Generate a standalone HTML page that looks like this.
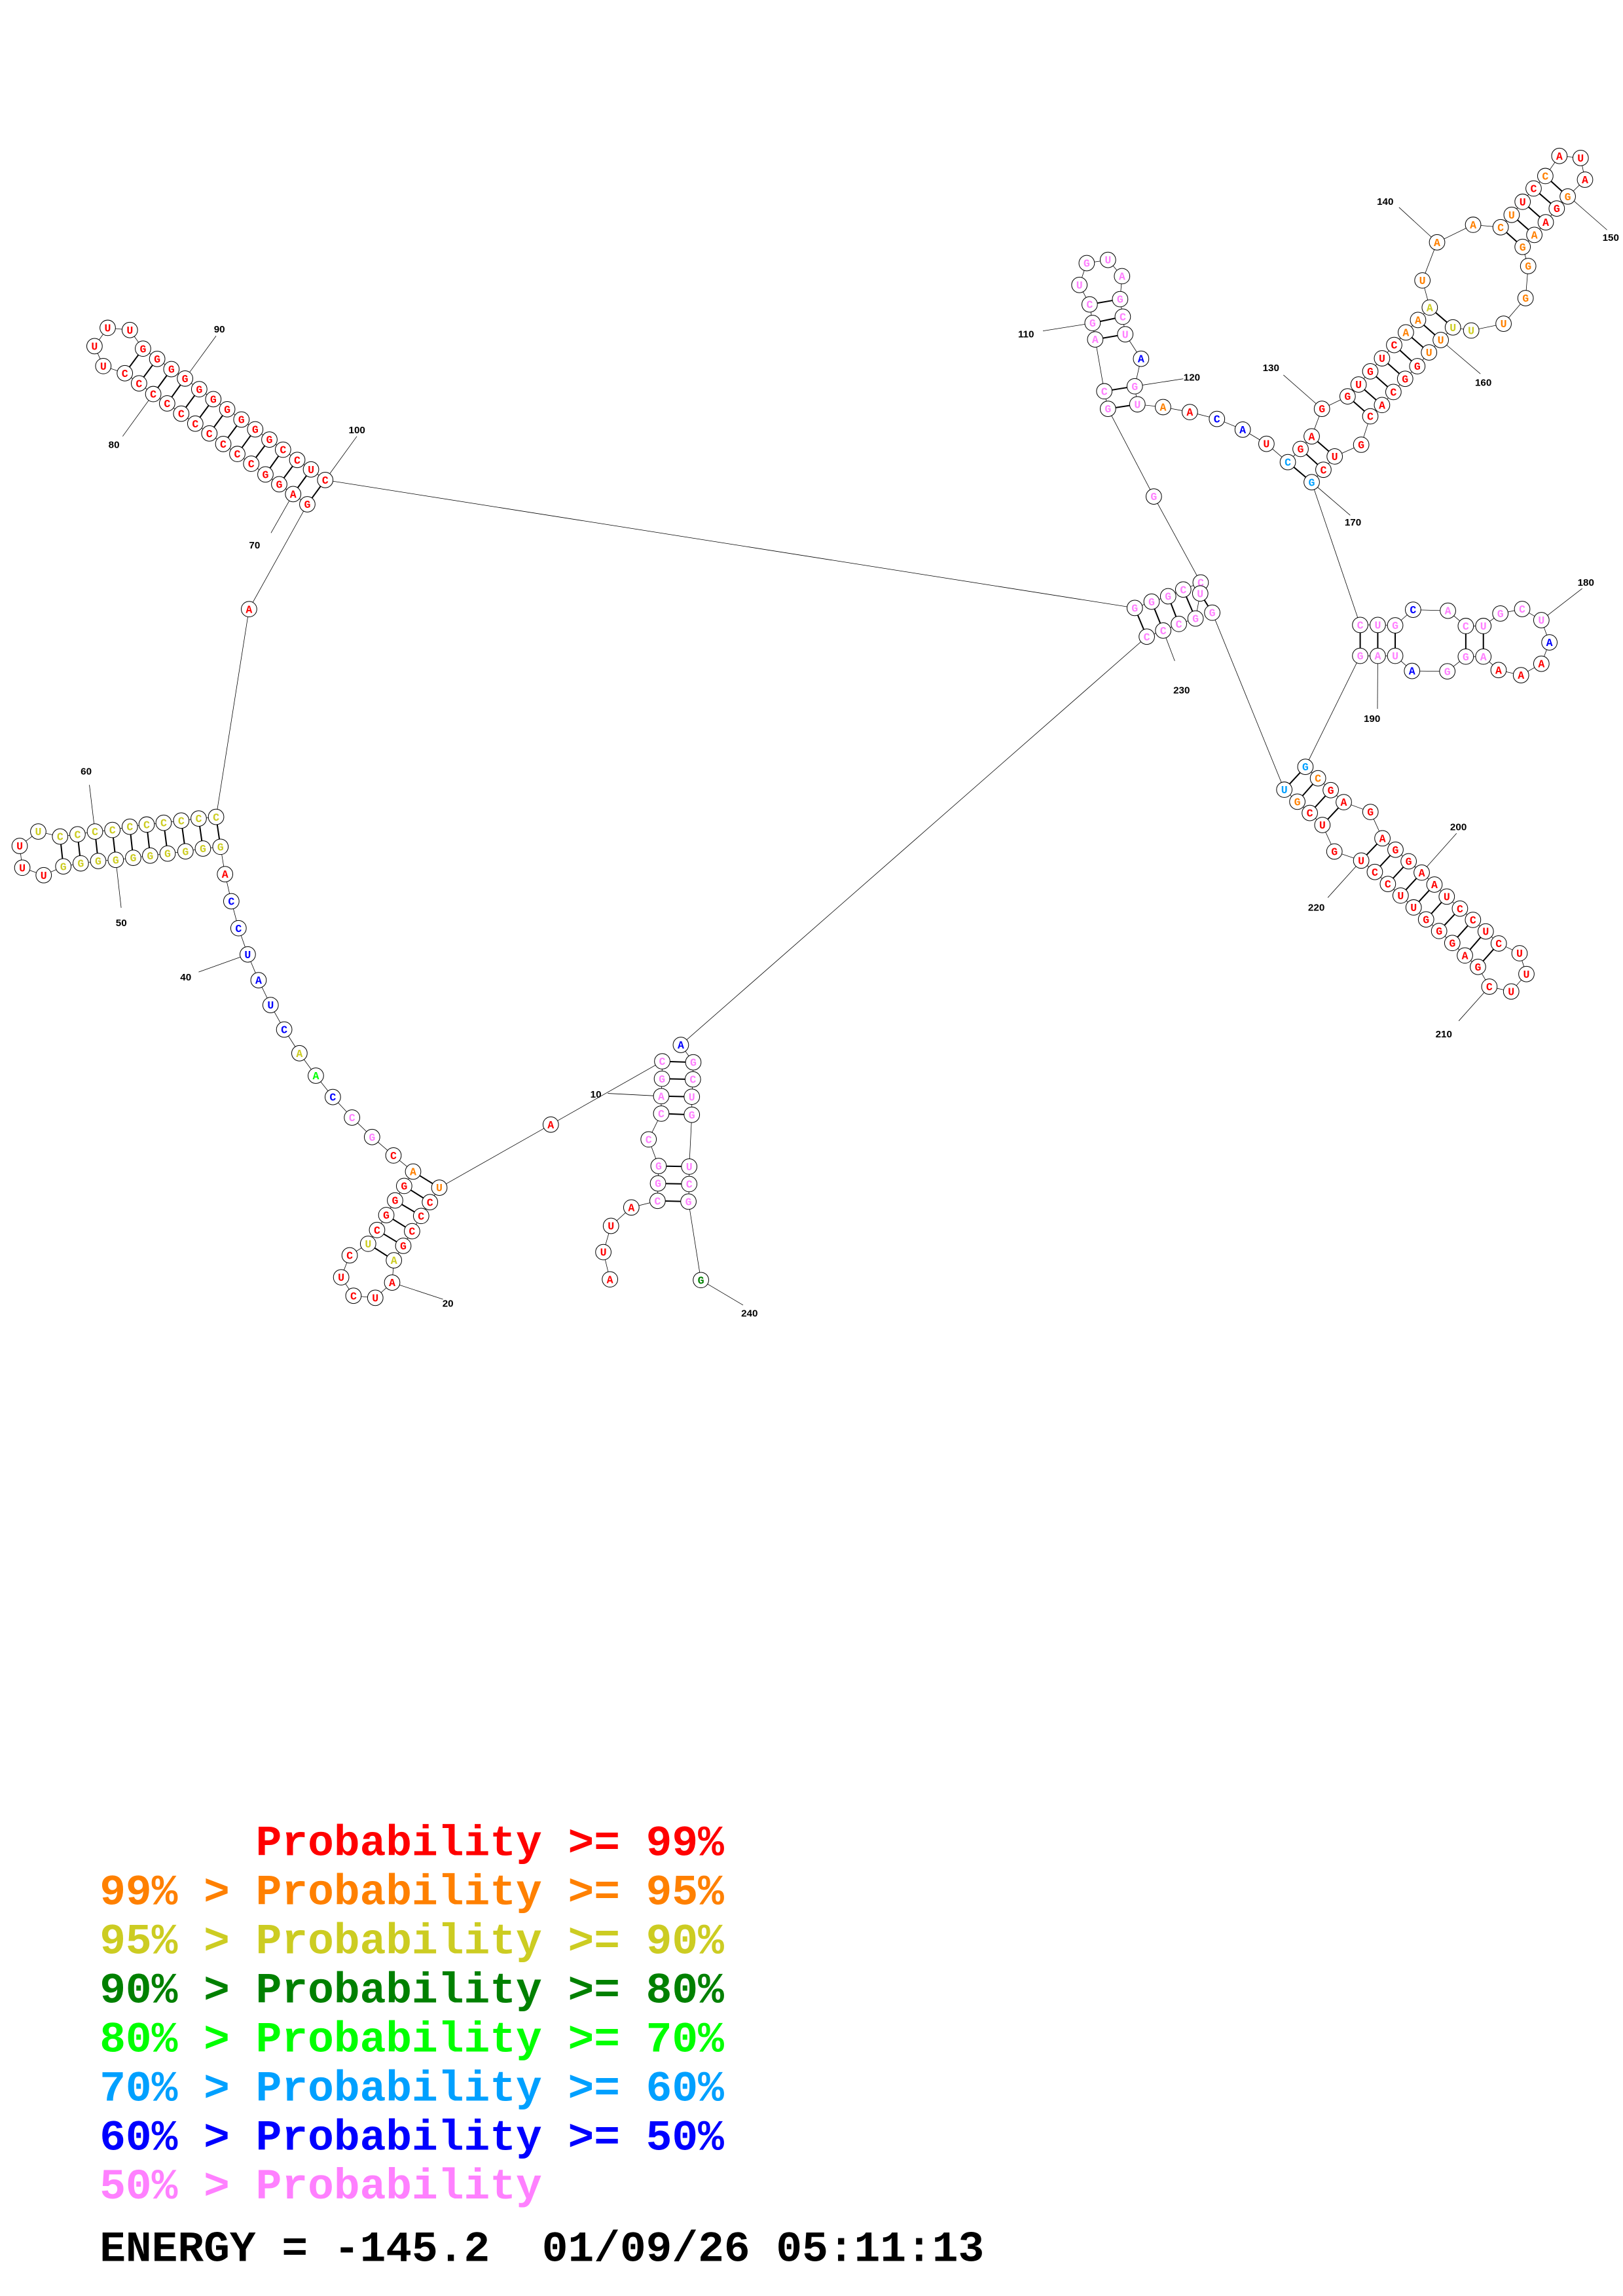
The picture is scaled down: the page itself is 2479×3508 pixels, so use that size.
<!DOCTYPE html>
<html><head><meta charset="utf-8"><style>
html,body{margin:0;padding:0;background:#fff}
svg{display:block}
.n circle{fill:#fff;stroke:#000;stroke-width:.45}
.n text{font:bold 7.4px "Liberation Mono",monospace;text-anchor:middle}
.r text{fill:#ff0000}.o text{fill:#ff8000}.y text{fill:#cccc22}.dg text{fill:#008000}
.g text{fill:#00ff00}.lb text{fill:#00a0ff}.b text{fill:#0000ff}.p text{fill:#ff80ff}
.lab{font:bold 6.8px "Liberation Sans",sans-serif;fill:#000}
.leg{font:bold 29.6px "Liberation Mono",monospace;white-space:pre}
</style></head><body>
<svg width="2479" height="3508" viewBox="0 0 1108 1568" xmlns="http://www.w3.org/2000/svg">
<rect width="1108" height="1568" fill="#fff"/>
<polyline fill="none" stroke="#000" stroke-width="0.35" points="
416.4,873.7 411.9,855.1 417.1,837.2 431.0,824.6 448.9,820.1 449.2,808.2 449.6,796.3 442.8,778.1 451.4,760.5 451.4,748.6 451.9,736.7 452.1,724.8
376,768 299.9,811.1 293.5,821.0 287.5,830.4 281.3,840.8 275.3,850.8 268.9,860.7 267.7,875.9 256.2,886.3 241.3,884.9 232.9,872.3 238.7,857.3 251.3,849.4 257.4,840.0 263.7,829.8 269.7,819.8 275.9,809.9 282.0,800.1
268.6,789.1 254.0,776.5 240.3,763.2 227.2,749.2 215.6,734.6 204.4,719.3 194.0,703.1 184.7,686.4 176.5,669.4 169.1,651.8 162.8,633.9 157.9,615.5 153.6,597.0
150.5,578.3 138.5,579.5 126.6,581.4 114.4,582.9 102.5,584.3 90.9,585.8 79.0,587.2 67.0,588.0 55.1,589.6 43.2,591.7 29.8,597.7 15.2,592.6 13.4,577.7 26.1,567.9
41.0,571.3 52.9,569.8 64.8,567.9 76.7,566.8 88.6,564.6 100.1,563.1 111.7,561.9 123.7,560.4 135.6,559.0 147.5,557.9 170,416
209.8,344.4 200.1,337.4 190.6,330.7 181.2,324.0 171.5,316.7 162.0,310.0 152.4,303.2 142.9,296.0 133.3,289.3 123.7,282.5 114.1,275.5 104.6,269.1 94.9,261.8 85.2,254.9 70.5,250.0 64.5,236.4 73.5,223.9 88.6,225.4 97.6,238.1 107.3,245.1 117.0,252.1 126.3,258.5 136.0,265.8 145.6,272.6 155.1,279.5 164.8,286.5 174.2,293.2 183.9,300.2 193.2,307.1 202.9,314.1 212.3,320.6 222.0,327.8
774.7,415.2 786.2,410.9 797.5,407.2 807.8,402.6 819.7,397.8 787.7,339.1
756.4,279.2 753.9,267.2 747.7,231.8 745.9,220.6 743.9,207.9 736.9,194.6 741.9,179.7 756.4,177.5 766.0,188.6 764.7,204.3 766.5,216.3 768.2,228.3 779.0,245.0 774.7,263.8 776.5,276.1
794.0,278.0 812.3,281.4 830.8,286.1 848.4,293.4 864.6,303.1 879.2,315.6 887.9,306.6 895.5,298.0 902.5,279.2 920.0,270.7 927.5,262.6 935.5,253.6 943.5,244.7 951.8,235.6 959.8,227.0 968.1,218.5 976.1,210.0 971.1,191.5 981.1,165.5 1005.7,153.5 1024.5,155.2 1032.0,146.7 1039.5,137.8 1047.0,128.7 1055.0,120.2 1064.6,106.5 1079.1,107.9 1082.1,122.7 1070.3,134.2 1062.8,142.4 1055.3,151.8 1047.5,160.4 1039.5,168.6 1043.3,181.7 1041.5,203.6 1026.5,221.1 1004.4,225.7 991.9,223.6 983.6,232.2 975.6,240.7 967.6,250.1 959.3,258.7 951.3,267.7 943.5,276.6 935.5,284.3 929.3,303.7 911.2,311.7 903.5,320.8 895.5,329.3
928.6,426.8 940.6,426.8 952.5,427.1 964.7,416.4 988.5,417.1 1000.7,427.5 1012.7,427.5 1024.3,419.0 1039.2,415.9 1052.3,423.5 1057.8,438.7 1052.3,453.3 1038.4,461.1 1023.1,457.6 1012.7,448.4 1000.7,448.4 988.1,458.5 964.0,458.2 952.5,447.9 940.6,447.9 928.6,447.9
891.2,523.7 899.8,531.5 908.5,539.6 917.4,547.8 935.6,554.5 943.8,572.5 952.7,580.3 961.7,588.2 970.6,595.9 979.3,604.1 987.7,612.3 996.7,620.5 1005.6,628.2 1014.3,636.1 1023.2,644.3 1037.4,651.0 1042.1,665.2 1031.7,677.1 1016.8,673.8 1009.0,660.3 1000.1,652.5 991.5,644.0 982.5,635.8 973.6,627.9 965.1,619.7 956.2,611.6 947.5,603.7 938.6,595.5 929.3,587.7 911.0,581.5 902.8,563.4 894.2,555.2 885.7,547.5 876.8,539.3
827.6,418.4 819.4,405.3 816.2,422.4 804.8,426.1 794.1,430.6 782.9,434.8
464.8,713.6 473.3,725.5 473.0,737.1 472.3,749.0 472.3,761.3 470.5,796.7 470.5,808.6 470.0,820.6 478.5,874.2"/>
<g stroke="#000" stroke-width="0.9">
<line x1="452.1" y1="724.8" x2="473.3" y2="725.5"/><line x1="451.9" y1="736.7" x2="473.0" y2="737.1"/><line x1="451.4" y1="748.6" x2="472.3" y2="749.0"/><line x1="451.4" y1="760.5" x2="472.3" y2="761.3"/>
<line x1="449.6" y1="796.3" x2="470.5" y2="796.7"/><line x1="449.2" y1="808.2" x2="470.5" y2="808.6"/><line x1="448.9" y1="820.1" x2="470.0" y2="820.6"/>
<line x1="282.0" y1="800.1" x2="299.9" y2="811.1"/><line x1="275.9" y1="809.9" x2="293.5" y2="821.0"/><line x1="269.7" y1="819.8" x2="287.5" y2="830.4"/><line x1="263.7" y1="829.8" x2="281.3" y2="840.8"/><line x1="257.4" y1="840.0" x2="275.3" y2="850.8"/><line x1="251.3" y1="849.4" x2="268.9" y2="860.7"/>
<line x1="41.0" y1="571.3" x2="43.2" y2="591.7"/><line x1="52.9" y1="569.8" x2="55.1" y2="589.6"/><line x1="64.8" y1="567.9" x2="67.0" y2="588.0"/><line x1="76.7" y1="566.8" x2="79.0" y2="587.2"/><line x1="88.6" y1="564.6" x2="90.9" y2="585.8"/><line x1="100.1" y1="563.1" x2="102.5" y2="584.3"/><line x1="111.7" y1="561.9" x2="114.4" y2="582.9"/><line x1="123.7" y1="560.4" x2="126.6" y2="581.4"/><line x1="135.6" y1="559.0" x2="138.5" y2="579.5"/><line x1="147.5" y1="557.9" x2="150.5" y2="578.3"/>
<line x1="85.2" y1="254.9" x2="97.6" y2="238.1"/><line x1="94.9" y1="261.8" x2="107.3" y2="245.1"/><line x1="104.6" y1="269.1" x2="117.0" y2="252.1"/><line x1="114.1" y1="275.5" x2="126.3" y2="258.5"/><line x1="123.7" y1="282.5" x2="136.0" y2="265.8"/><line x1="133.3" y1="289.3" x2="145.6" y2="272.6"/><line x1="142.9" y1="296.0" x2="155.1" y2="279.5"/><line x1="152.4" y1="303.2" x2="164.8" y2="286.5"/><line x1="162.0" y1="310.0" x2="174.2" y2="293.2"/><line x1="171.5" y1="316.7" x2="183.9" y2="300.2"/><line x1="181.2" y1="324.0" x2="193.2" y2="307.1"/><line x1="190.6" y1="330.7" x2="202.9" y2="314.1"/><line x1="200.1" y1="337.4" x2="212.3" y2="320.6"/><line x1="209.8" y1="344.4" x2="222.0" y2="327.8"/>
<line x1="774.7" y1="415.2" x2="782.9" y2="434.8"/><line x1="786.2" y1="410.9" x2="794.1" y2="430.6"/><line x1="797.5" y1="407.2" x2="804.8" y2="426.1"/><line x1="807.8" y1="402.6" x2="816.2" y2="422.4"/><line x1="819.4" y1="405.3" x2="827.6" y2="418.4"/>
<line x1="743.9" y1="207.9" x2="764.7" y2="204.3"/><line x1="745.9" y1="220.6" x2="766.5" y2="216.3"/><line x1="747.7" y1="231.8" x2="768.2" y2="228.3"/><line x1="753.9" y1="267.2" x2="774.7" y2="263.8"/><line x1="756.4" y1="279.2" x2="776.5" y2="276.1"/>
<line x1="879.2" y1="315.6" x2="895.5" y2="329.3"/><line x1="887.9" y1="306.6" x2="903.5" y2="320.8"/><line x1="895.5" y1="298.0" x2="911.2" y2="311.7"/><line x1="920.0" y1="270.7" x2="935.5" y2="284.3"/><line x1="927.5" y1="262.6" x2="943.5" y2="276.6"/><line x1="935.5" y1="253.6" x2="951.3" y2="267.7"/><line x1="943.5" y1="244.7" x2="959.3" y2="258.7"/><line x1="951.8" y1="235.6" x2="967.6" y2="250.1"/><line x1="959.8" y1="227.0" x2="975.6" y2="240.7"/><line x1="968.1" y1="218.5" x2="983.6" y2="232.2"/><line x1="976.1" y1="210.0" x2="991.9" y2="223.6"/>
<line x1="1024.5" y1="155.2" x2="1039.5" y2="168.6"/><line x1="1032.0" y1="146.7" x2="1047.5" y2="160.4"/><line x1="1039.5" y1="137.8" x2="1055.3" y2="151.8"/><line x1="1047.0" y1="128.7" x2="1062.8" y2="142.4"/><line x1="1055.0" y1="120.2" x2="1070.3" y2="134.2"/>
<line x1="928.6" y1="426.8" x2="928.6" y2="447.9"/><line x1="940.6" y1="426.8" x2="940.6" y2="447.9"/><line x1="952.5" y1="427.1" x2="952.5" y2="447.9"/><line x1="1000.7" y1="427.5" x2="1000.7" y2="448.4"/><line x1="1012.7" y1="427.5" x2="1012.7" y2="448.4"/>
<line x1="891.2" y1="523.7" x2="876.8" y2="539.3"/><line x1="899.8" y1="531.5" x2="885.7" y2="547.5"/><line x1="908.5" y1="539.6" x2="894.2" y2="555.2"/><line x1="917.4" y1="547.8" x2="902.8" y2="563.4"/><line x1="943.8" y1="572.5" x2="929.3" y2="587.7"/><line x1="952.7" y1="580.3" x2="938.6" y2="595.5"/><line x1="961.7" y1="588.2" x2="947.5" y2="603.7"/><line x1="970.6" y1="595.9" x2="956.2" y2="611.6"/><line x1="979.3" y1="604.1" x2="965.1" y2="619.7"/><line x1="987.7" y1="612.3" x2="973.6" y2="627.9"/><line x1="996.7" y1="620.5" x2="982.5" y2="635.8"/><line x1="1005.6" y1="628.2" x2="991.5" y2="644.0"/><line x1="1014.3" y1="636.1" x2="1000.1" y2="652.5"/><line x1="1023.2" y1="644.3" x2="1009.0" y2="660.3"/>
</g>
<g stroke="#000" stroke-width="0.35">
<line x1="414.9" y1="746.7" x2="451.4" y2="748.6"/><line x1="478.5" y1="874.2" x2="507.3" y2="891.3"/>
<line x1="267.7" y1="875.9" x2="302.4" y2="887.3"/><line x1="135.6" y1="663.8" x2="169.1" y2="651.8"/>
<line x1="61" y1="536" x2="64.8" y2="567.9"/><line x1="79.0" y1="587.2" x2="82.7" y2="620"/>
<line x1="185" y1="364" x2="200.1" y2="337.4"/><line x1="83.7" y1="298" x2="104.6" y2="269.1"/><line x1="147.5" y1="229.4" x2="126.3" y2="258.5"/><line x1="243.6" y1="298" x2="222.0" y2="327.8"/>
<line x1="712" y1="226" x2="745.9" y2="220.6"/><line x1="807.8" y1="258.7" x2="774.7" y2="263.8"/>
<line x1="876.2" y1="256.1" x2="902.5" y2="279.2"/><line x1="955.1" y1="141.6" x2="981.1" y2="165.5"/><line x1="1074.6" y1="137.3" x2="1097.1" y2="157"/><line x1="1010.7" y1="255.3" x2="983.6" y2="232.2"/><line x1="921.8" y1="351.9" x2="895.5" y2="329.3"/>
<line x1="1080.2" y1="401.9" x2="1052.3" y2="423.5"/><line x1="940.4" y1="484.1" x2="940.6" y2="447.9"/>
<line x1="994.4" y1="569.1" x2="970.6" y2="595.9"/><line x1="906.5" y1="613" x2="929.3" y2="587.7"/><line x1="995.9" y1="697.2" x2="1016.8" y2="673.8"/>
<line x1="802" y1="451.4" x2="794.1" y2="430.6"/>
</g>
<g class="lab">
<text x="403" y="749.5">10</text><text x="506" y="899">240</text><text x="302" y="892.5">20</text><text x="123" y="669.5">40</text>
<text x="55" y="529">60</text><text x="79" y="632.5">50</text><text x="170" y="374.5">70</text><text x="74" y="306">80</text><text x="146" y="227">90</text><text x="238" y="296">100</text>
<text x="695" y="230.5">110</text><text x="808" y="260">120</text><text x="862" y="253.5">130</text><text x="940" y="140">140</text><text x="1094" y="164.5">150</text><text x="1007" y="263.5">160</text><text x="918" y="359">170</text>
<text x="1077" y="400">180</text><text x="931" y="493">190</text><text x="990" y="567">200</text><text x="980" y="708.5">210</text><text x="893" y="622">220</text><text x="801" y="473.5">230</text>
</g>
<g class="n">
<g class="r" transform="translate(416.4,873.7)"><circle r="5.3"/><text y="2.5">A</text></g>
<g class="r" transform="translate(411.9,855.1)"><circle r="5.3"/><text y="2.5">U</text></g>
<g class="r" transform="translate(417.1,837.2)"><circle r="5.3"/><text y="2.5">U</text></g>
<g class="r" transform="translate(431.0,824.6)"><circle r="5.3"/><text y="2.5">A</text></g>
<g class="p" transform="translate(448.9,820.1)"><circle r="5.3"/><text y="2.5">C</text></g>
<g class="p" transform="translate(449.2,808.2)"><circle r="5.3"/><text y="2.5">G</text></g>
<g class="p" transform="translate(449.6,796.3)"><circle r="5.3"/><text y="2.5">G</text></g>
<g class="p" transform="translate(442.8,778.1)"><circle r="5.3"/><text y="2.5">C</text></g>
<g class="p" transform="translate(451.4,760.5)"><circle r="5.3"/><text y="2.5">C</text></g>
<g class="p" transform="translate(451.4,748.6)"><circle r="5.3"/><text y="2.5">A</text></g>
<g class="p" transform="translate(451.9,736.7)"><circle r="5.3"/><text y="2.5">G</text></g>
<g class="p" transform="translate(452.1,724.8)"><circle r="5.3"/><text y="2.5">C</text></g>
<g class="r" transform="translate(376,768)"><circle r="5.3"/><text y="2.5">A</text></g>
<g class="o" transform="translate(299.9,811.1)"><circle r="5.3"/><text y="2.5">U</text></g>
<g class="r" transform="translate(293.5,821.0)"><circle r="5.3"/><text y="2.5">C</text></g>
<g class="r" transform="translate(287.5,830.4)"><circle r="5.3"/><text y="2.5">C</text></g>
<g class="r" transform="translate(281.3,840.8)"><circle r="5.3"/><text y="2.5">C</text></g>
<g class="r" transform="translate(275.3,850.8)"><circle r="5.3"/><text y="2.5">G</text></g>
<g class="y" transform="translate(268.9,860.7)"><circle r="5.3"/><text y="2.5">A</text></g>
<g class="r" transform="translate(267.7,875.9)"><circle r="5.3"/><text y="2.5">A</text></g>
<g class="r" transform="translate(256.2,886.3)"><circle r="5.3"/><text y="2.5">U</text></g>
<g class="r" transform="translate(241.3,884.9)"><circle r="5.3"/><text y="2.5">C</text></g>
<g class="r" transform="translate(232.9,872.3)"><circle r="5.3"/><text y="2.5">U</text></g>
<g class="r" transform="translate(238.7,857.3)"><circle r="5.3"/><text y="2.5">C</text></g>
<g class="y" transform="translate(251.3,849.4)"><circle r="5.3"/><text y="2.5">U</text></g>
<g class="r" transform="translate(257.4,840.0)"><circle r="5.3"/><text y="2.5">C</text></g>
<g class="r" transform="translate(263.7,829.8)"><circle r="5.3"/><text y="2.5">G</text></g>
<g class="r" transform="translate(269.7,819.8)"><circle r="5.3"/><text y="2.5">G</text></g>
<g class="r" transform="translate(275.9,809.9)"><circle r="5.3"/><text y="2.5">G</text></g>
<g class="o" transform="translate(282.0,800.1)"><circle r="5.3"/><text y="2.5">A</text></g>
<g class="r" transform="translate(268.6,789.1)"><circle r="5.3"/><text y="2.5">C</text></g>
<g class="p" transform="translate(254.0,776.5)"><circle r="5.3"/><text y="2.5">G</text></g>
<g class="p" transform="translate(240.3,763.2)"><circle r="5.3"/><text y="2.5">C</text></g>
<g class="b" transform="translate(227.2,749.2)"><circle r="5.3"/><text y="2.5">C</text></g>
<g class="g" transform="translate(215.6,734.6)"><circle r="5.3"/><text y="2.5">A</text></g>
<g class="y" transform="translate(204.4,719.3)"><circle r="5.3"/><text y="2.5">A</text></g>
<g class="b" transform="translate(194.0,703.1)"><circle r="5.3"/><text y="2.5">C</text></g>
<g class="b" transform="translate(184.7,686.4)"><circle r="5.3"/><text y="2.5">U</text></g>
<g class="b" transform="translate(176.5,669.4)"><circle r="5.3"/><text y="2.5">A</text></g>
<g class="b" transform="translate(169.1,651.8)"><circle r="5.3"/><text y="2.5">U</text></g>
<g class="b" transform="translate(162.8,633.9)"><circle r="5.3"/><text y="2.5">C</text></g>
<g class="b" transform="translate(157.9,615.5)"><circle r="5.3"/><text y="2.5">C</text></g>
<g class="r" transform="translate(153.6,597.0)"><circle r="5.3"/><text y="2.5">A</text></g>
<g class="y" transform="translate(150.5,578.3)"><circle r="5.3"/><text y="2.5">G</text></g>
<g class="y" transform="translate(138.5,579.5)"><circle r="5.3"/><text y="2.5">G</text></g>
<g class="y" transform="translate(126.6,581.4)"><circle r="5.3"/><text y="2.5">G</text></g>
<g class="y" transform="translate(114.4,582.9)"><circle r="5.3"/><text y="2.5">G</text></g>
<g class="y" transform="translate(102.5,584.3)"><circle r="5.3"/><text y="2.5">G</text></g>
<g class="y" transform="translate(90.9,585.8)"><circle r="5.3"/><text y="2.5">G</text></g>
<g class="y" transform="translate(79.0,587.2)"><circle r="5.3"/><text y="2.5">G</text></g>
<g class="y" transform="translate(67.0,588.0)"><circle r="5.3"/><text y="2.5">G</text></g>
<g class="y" transform="translate(55.1,589.6)"><circle r="5.3"/><text y="2.5">G</text></g>
<g class="y" transform="translate(43.2,591.7)"><circle r="5.3"/><text y="2.5">G</text></g>
<g class="r" transform="translate(29.8,597.7)"><circle r="5.3"/><text y="2.5">U</text></g>
<g class="r" transform="translate(15.2,592.6)"><circle r="5.3"/><text y="2.5">U</text></g>
<g class="r" transform="translate(13.4,577.7)"><circle r="5.3"/><text y="2.5">U</text></g>
<g class="y" transform="translate(26.1,567.9)"><circle r="5.3"/><text y="2.5">U</text></g>
<g class="y" transform="translate(41.0,571.3)"><circle r="5.3"/><text y="2.5">C</text></g>
<g class="y" transform="translate(52.9,569.8)"><circle r="5.3"/><text y="2.5">C</text></g>
<g class="y" transform="translate(64.8,567.9)"><circle r="5.3"/><text y="2.5">C</text></g>
<g class="y" transform="translate(76.7,566.8)"><circle r="5.3"/><text y="2.5">C</text></g>
<g class="y" transform="translate(88.6,564.6)"><circle r="5.3"/><text y="2.5">C</text></g>
<g class="y" transform="translate(100.1,563.1)"><circle r="5.3"/><text y="2.5">C</text></g>
<g class="y" transform="translate(111.7,561.9)"><circle r="5.3"/><text y="2.5">C</text></g>
<g class="y" transform="translate(123.7,560.4)"><circle r="5.3"/><text y="2.5">C</text></g>
<g class="y" transform="translate(135.6,559.0)"><circle r="5.3"/><text y="2.5">C</text></g>
<g class="y" transform="translate(147.5,557.9)"><circle r="5.3"/><text y="2.5">C</text></g>
<g class="r" transform="translate(170,416)"><circle r="5.3"/><text y="2.5">A</text></g>
<g class="r" transform="translate(209.8,344.4)"><circle r="5.3"/><text y="2.5">G</text></g>
<g class="r" transform="translate(200.1,337.4)"><circle r="5.3"/><text y="2.5">A</text></g>
<g class="r" transform="translate(190.6,330.7)"><circle r="5.3"/><text y="2.5">G</text></g>
<g class="r" transform="translate(181.2,324.0)"><circle r="5.3"/><text y="2.5">G</text></g>
<g class="r" transform="translate(171.5,316.7)"><circle r="5.3"/><text y="2.5">C</text></g>
<g class="r" transform="translate(162.0,310.0)"><circle r="5.3"/><text y="2.5">C</text></g>
<g class="r" transform="translate(152.4,303.2)"><circle r="5.3"/><text y="2.5">C</text></g>
<g class="r" transform="translate(142.9,296.0)"><circle r="5.3"/><text y="2.5">C</text></g>
<g class="r" transform="translate(133.3,289.3)"><circle r="5.3"/><text y="2.5">C</text></g>
<g class="r" transform="translate(123.7,282.5)"><circle r="5.3"/><text y="2.5">C</text></g>
<g class="r" transform="translate(114.1,275.5)"><circle r="5.3"/><text y="2.5">C</text></g>
<g class="r" transform="translate(104.6,269.1)"><circle r="5.3"/><text y="2.5">C</text></g>
<g class="r" transform="translate(94.9,261.8)"><circle r="5.3"/><text y="2.5">C</text></g>
<g class="r" transform="translate(85.2,254.9)"><circle r="5.3"/><text y="2.5">C</text></g>
<g class="r" transform="translate(70.5,250.0)"><circle r="5.3"/><text y="2.5">U</text></g>
<g class="r" transform="translate(64.5,236.4)"><circle r="5.3"/><text y="2.5">U</text></g>
<g class="r" transform="translate(73.5,223.9)"><circle r="5.3"/><text y="2.5">U</text></g>
<g class="r" transform="translate(88.6,225.4)"><circle r="5.3"/><text y="2.5">U</text></g>
<g class="r" transform="translate(97.6,238.1)"><circle r="5.3"/><text y="2.5">G</text></g>
<g class="r" transform="translate(107.3,245.1)"><circle r="5.3"/><text y="2.5">G</text></g>
<g class="r" transform="translate(117.0,252.1)"><circle r="5.3"/><text y="2.5">G</text></g>
<g class="r" transform="translate(126.3,258.5)"><circle r="5.3"/><text y="2.5">G</text></g>
<g class="r" transform="translate(136.0,265.8)"><circle r="5.3"/><text y="2.5">G</text></g>
<g class="r" transform="translate(145.6,272.6)"><circle r="5.3"/><text y="2.5">G</text></g>
<g class="r" transform="translate(155.1,279.5)"><circle r="5.3"/><text y="2.5">G</text></g>
<g class="r" transform="translate(164.8,286.5)"><circle r="5.3"/><text y="2.5">G</text></g>
<g class="r" transform="translate(174.2,293.2)"><circle r="5.3"/><text y="2.5">G</text></g>
<g class="r" transform="translate(183.9,300.2)"><circle r="5.3"/><text y="2.5">G</text></g>
<g class="r" transform="translate(193.2,307.1)"><circle r="5.3"/><text y="2.5">C</text></g>
<g class="r" transform="translate(202.9,314.1)"><circle r="5.3"/><text y="2.5">C</text></g>
<g class="r" transform="translate(212.3,320.6)"><circle r="5.3"/><text y="2.5">U</text></g>
<g class="r" transform="translate(222.0,327.8)"><circle r="5.3"/><text y="2.5">C</text></g>
<g class="p" transform="translate(774.7,415.2)"><circle r="5.3"/><text y="2.5">G</text></g>
<g class="p" transform="translate(786.2,410.9)"><circle r="5.3"/><text y="2.5">G</text></g>
<g class="p" transform="translate(797.5,407.2)"><circle r="5.3"/><text y="2.5">G</text></g>
<g class="p" transform="translate(807.8,402.6)"><circle r="5.3"/><text y="2.5">C</text></g>
<g class="p" transform="translate(819.7,397.8)"><circle r="5.3"/><text y="2.5">C</text></g>
<g class="p" transform="translate(787.7,339.1)"><circle r="5.3"/><text y="2.5">G</text></g>
<g class="p" transform="translate(756.4,279.2)"><circle r="5.3"/><text y="2.5">G</text></g>
<g class="p" transform="translate(753.9,267.2)"><circle r="5.3"/><text y="2.5">C</text></g>
<g class="p" transform="translate(747.7,231.8)"><circle r="5.3"/><text y="2.5">A</text></g>
<g class="p" transform="translate(745.9,220.6)"><circle r="5.3"/><text y="2.5">G</text></g>
<g class="p" transform="translate(743.9,207.9)"><circle r="5.3"/><text y="2.5">C</text></g>
<g class="p" transform="translate(736.9,194.6)"><circle r="5.3"/><text y="2.5">U</text></g>
<g class="p" transform="translate(741.9,179.7)"><circle r="5.3"/><text y="2.5">G</text></g>
<g class="p" transform="translate(756.4,177.5)"><circle r="5.3"/><text y="2.5">U</text></g>
<g class="p" transform="translate(766.0,188.6)"><circle r="5.3"/><text y="2.5">A</text></g>
<g class="p" transform="translate(764.7,204.3)"><circle r="5.3"/><text y="2.5">G</text></g>
<g class="p" transform="translate(766.5,216.3)"><circle r="5.3"/><text y="2.5">C</text></g>
<g class="p" transform="translate(768.2,228.3)"><circle r="5.3"/><text y="2.5">U</text></g>
<g class="b" transform="translate(779.0,245.0)"><circle r="5.3"/><text y="2.5">A</text></g>
<g class="p" transform="translate(774.7,263.8)"><circle r="5.3"/><text y="2.5">G</text></g>
<g class="p" transform="translate(776.5,276.1)"><circle r="5.3"/><text y="2.5">U</text></g>
<g class="o" transform="translate(794.0,278.0)"><circle r="5.3"/><text y="2.5">A</text></g>
<g class="r" transform="translate(812.3,281.4)"><circle r="5.3"/><text y="2.5">A</text></g>
<g class="b" transform="translate(830.8,286.1)"><circle r="5.3"/><text y="2.5">C</text></g>
<g class="b" transform="translate(848.4,293.4)"><circle r="5.3"/><text y="2.5">A</text></g>
<g class="r" transform="translate(864.6,303.1)"><circle r="5.3"/><text y="2.5">U</text></g>
<g class="lb" transform="translate(879.2,315.6)"><circle r="5.3"/><text y="2.5">C</text></g>
<g class="r" transform="translate(887.9,306.6)"><circle r="5.3"/><text y="2.5">G</text></g>
<g class="r" transform="translate(895.5,298.0)"><circle r="5.3"/><text y="2.5">A</text></g>
<g class="r" transform="translate(902.5,279.2)"><circle r="5.3"/><text y="2.5">G</text></g>
<g class="r" transform="translate(920.0,270.7)"><circle r="5.3"/><text y="2.5">G</text></g>
<g class="r" transform="translate(927.5,262.6)"><circle r="5.3"/><text y="2.5">U</text></g>
<g class="r" transform="translate(935.5,253.6)"><circle r="5.3"/><text y="2.5">G</text></g>
<g class="r" transform="translate(943.5,244.7)"><circle r="5.3"/><text y="2.5">U</text></g>
<g class="r" transform="translate(951.8,235.6)"><circle r="5.3"/><text y="2.5">C</text></g>
<g class="o" transform="translate(959.8,227.0)"><circle r="5.3"/><text y="2.5">A</text></g>
<g class="o" transform="translate(968.1,218.5)"><circle r="5.3"/><text y="2.5">A</text></g>
<g class="y" transform="translate(976.1,210.0)"><circle r="5.3"/><text y="2.5">A</text></g>
<g class="o" transform="translate(971.1,191.5)"><circle r="5.3"/><text y="2.5">U</text></g>
<g class="o" transform="translate(981.1,165.5)"><circle r="5.3"/><text y="2.5">A</text></g>
<g class="o" transform="translate(1005.7,153.5)"><circle r="5.3"/><text y="2.5">A</text></g>
<g class="o" transform="translate(1024.5,155.2)"><circle r="5.3"/><text y="2.5">C</text></g>
<g class="o" transform="translate(1032.0,146.7)"><circle r="5.3"/><text y="2.5">U</text></g>
<g class="r" transform="translate(1039.5,137.8)"><circle r="5.3"/><text y="2.5">U</text></g>
<g class="r" transform="translate(1047.0,128.7)"><circle r="5.3"/><text y="2.5">C</text></g>
<g class="o" transform="translate(1055.0,120.2)"><circle r="5.3"/><text y="2.5">C</text></g>
<g class="r" transform="translate(1064.6,106.5)"><circle r="5.3"/><text y="2.5">A</text></g>
<g class="r" transform="translate(1079.1,107.9)"><circle r="5.3"/><text y="2.5">U</text></g>
<g class="r" transform="translate(1082.1,122.7)"><circle r="5.3"/><text y="2.5">A</text></g>
<g class="o" transform="translate(1070.3,134.2)"><circle r="5.3"/><text y="2.5">G</text></g>
<g class="r" transform="translate(1062.8,142.4)"><circle r="5.3"/><text y="2.5">G</text></g>
<g class="r" transform="translate(1055.3,151.8)"><circle r="5.3"/><text y="2.5">A</text></g>
<g class="o" transform="translate(1047.5,160.4)"><circle r="5.3"/><text y="2.5">A</text></g>
<g class="o" transform="translate(1039.5,168.6)"><circle r="5.3"/><text y="2.5">G</text></g>
<g class="o" transform="translate(1043.3,181.7)"><circle r="5.3"/><text y="2.5">G</text></g>
<g class="o" transform="translate(1041.5,203.6)"><circle r="5.3"/><text y="2.5">G</text></g>
<g class="o" transform="translate(1026.5,221.1)"><circle r="5.3"/><text y="2.5">U</text></g>
<g class="y" transform="translate(1004.4,225.7)"><circle r="5.3"/><text y="2.5">U</text></g>
<g class="y" transform="translate(991.9,223.6)"><circle r="5.3"/><text y="2.5">U</text></g>
<g class="o" transform="translate(983.6,232.2)"><circle r="5.3"/><text y="2.5">U</text></g>
<g class="o" transform="translate(975.6,240.7)"><circle r="5.3"/><text y="2.5">U</text></g>
<g class="r" transform="translate(967.6,250.1)"><circle r="5.3"/><text y="2.5">G</text></g>
<g class="r" transform="translate(959.3,258.7)"><circle r="5.3"/><text y="2.5">G</text></g>
<g class="r" transform="translate(951.3,267.7)"><circle r="5.3"/><text y="2.5">C</text></g>
<g class="r" transform="translate(943.5,276.6)"><circle r="5.3"/><text y="2.5">A</text></g>
<g class="r" transform="translate(935.5,284.3)"><circle r="5.3"/><text y="2.5">C</text></g>
<g class="r" transform="translate(929.3,303.7)"><circle r="5.3"/><text y="2.5">G</text></g>
<g class="r" transform="translate(911.2,311.7)"><circle r="5.3"/><text y="2.5">U</text></g>
<g class="r" transform="translate(903.5,320.8)"><circle r="5.3"/><text y="2.5">C</text></g>
<g class="lb" transform="translate(895.5,329.3)"><circle r="5.3"/><text y="2.5">G</text></g>
<g class="p" transform="translate(928.6,426.8)"><circle r="5.3"/><text y="2.5">C</text></g>
<g class="p" transform="translate(940.6,426.8)"><circle r="5.3"/><text y="2.5">U</text></g>
<g class="p" transform="translate(952.5,427.1)"><circle r="5.3"/><text y="2.5">G</text></g>
<g class="b" transform="translate(964.7,416.4)"><circle r="5.3"/><text y="2.5">C</text></g>
<g class="p" transform="translate(988.5,417.1)"><circle r="5.3"/><text y="2.5">A</text></g>
<g class="p" transform="translate(1000.7,427.5)"><circle r="5.3"/><text y="2.5">C</text></g>
<g class="p" transform="translate(1012.7,427.5)"><circle r="5.3"/><text y="2.5">U</text></g>
<g class="p" transform="translate(1024.3,419.0)"><circle r="5.3"/><text y="2.5">G</text></g>
<g class="p" transform="translate(1039.2,415.9)"><circle r="5.3"/><text y="2.5">C</text></g>
<g class="p" transform="translate(1052.3,423.5)"><circle r="5.3"/><text y="2.5">U</text></g>
<g class="b" transform="translate(1057.8,438.7)"><circle r="5.3"/><text y="2.5">A</text></g>
<g class="r" transform="translate(1052.3,453.3)"><circle r="5.3"/><text y="2.5">A</text></g>
<g class="r" transform="translate(1038.4,461.1)"><circle r="5.3"/><text y="2.5">A</text></g>
<g class="r" transform="translate(1023.1,457.6)"><circle r="5.3"/><text y="2.5">A</text></g>
<g class="p" transform="translate(1012.7,448.4)"><circle r="5.3"/><text y="2.5">A</text></g>
<g class="p" transform="translate(1000.7,448.4)"><circle r="5.3"/><text y="2.5">G</text></g>
<g class="p" transform="translate(988.1,458.5)"><circle r="5.3"/><text y="2.5">G</text></g>
<g class="b" transform="translate(964.0,458.2)"><circle r="5.3"/><text y="2.5">A</text></g>
<g class="p" transform="translate(952.5,447.9)"><circle r="5.3"/><text y="2.5">U</text></g>
<g class="p" transform="translate(940.6,447.9)"><circle r="5.3"/><text y="2.5">A</text></g>
<g class="p" transform="translate(928.6,447.9)"><circle r="5.3"/><text y="2.5">G</text></g>
<g class="lb" transform="translate(891.2,523.7)"><circle r="5.3"/><text y="2.5">G</text></g>
<g class="o" transform="translate(899.8,531.5)"><circle r="5.3"/><text y="2.5">C</text></g>
<g class="r" transform="translate(908.5,539.6)"><circle r="5.3"/><text y="2.5">G</text></g>
<g class="r" transform="translate(917.4,547.8)"><circle r="5.3"/><text y="2.5">A</text></g>
<g class="r" transform="translate(935.6,554.5)"><circle r="5.3"/><text y="2.5">G</text></g>
<g class="r" transform="translate(943.8,572.5)"><circle r="5.3"/><text y="2.5">A</text></g>
<g class="r" transform="translate(952.7,580.3)"><circle r="5.3"/><text y="2.5">G</text></g>
<g class="r" transform="translate(961.7,588.2)"><circle r="5.3"/><text y="2.5">G</text></g>
<g class="r" transform="translate(970.6,595.9)"><circle r="5.3"/><text y="2.5">A</text></g>
<g class="r" transform="translate(979.3,604.1)"><circle r="5.3"/><text y="2.5">A</text></g>
<g class="r" transform="translate(987.7,612.3)"><circle r="5.3"/><text y="2.5">U</text></g>
<g class="r" transform="translate(996.7,620.5)"><circle r="5.3"/><text y="2.5">C</text></g>
<g class="r" transform="translate(1005.6,628.2)"><circle r="5.3"/><text y="2.5">C</text></g>
<g class="r" transform="translate(1014.3,636.1)"><circle r="5.3"/><text y="2.5">U</text></g>
<g class="r" transform="translate(1023.2,644.3)"><circle r="5.3"/><text y="2.5">C</text></g>
<g class="r" transform="translate(1037.4,651.0)"><circle r="5.3"/><text y="2.5">U</text></g>
<g class="r" transform="translate(1042.1,665.2)"><circle r="5.3"/><text y="2.5">U</text></g>
<g class="r" transform="translate(1031.7,677.1)"><circle r="5.3"/><text y="2.5">U</text></g>
<g class="r" transform="translate(1016.8,673.8)"><circle r="5.3"/><text y="2.5">C</text></g>
<g class="r" transform="translate(1009.0,660.3)"><circle r="5.3"/><text y="2.5">G</text></g>
<g class="r" transform="translate(1000.1,652.5)"><circle r="5.3"/><text y="2.5">A</text></g>
<g class="r" transform="translate(991.5,644.0)"><circle r="5.3"/><text y="2.5">G</text></g>
<g class="r" transform="translate(982.5,635.8)"><circle r="5.3"/><text y="2.5">G</text></g>
<g class="r" transform="translate(973.6,627.9)"><circle r="5.3"/><text y="2.5">G</text></g>
<g class="r" transform="translate(965.1,619.7)"><circle r="5.3"/><text y="2.5">U</text></g>
<g class="r" transform="translate(956.2,611.6)"><circle r="5.3"/><text y="2.5">U</text></g>
<g class="r" transform="translate(947.5,603.7)"><circle r="5.3"/><text y="2.5">C</text></g>
<g class="r" transform="translate(938.6,595.5)"><circle r="5.3"/><text y="2.5">C</text></g>
<g class="r" transform="translate(929.3,587.7)"><circle r="5.3"/><text y="2.5">U</text></g>
<g class="r" transform="translate(911.0,581.5)"><circle r="5.3"/><text y="2.5">G</text></g>
<g class="r" transform="translate(902.8,563.4)"><circle r="5.3"/><text y="2.5">U</text></g>
<g class="r" transform="translate(894.2,555.2)"><circle r="5.3"/><text y="2.5">C</text></g>
<g class="o" transform="translate(885.7,547.5)"><circle r="5.3"/><text y="2.5">G</text></g>
<g class="lb" transform="translate(876.8,539.3)"><circle r="5.3"/><text y="2.5">U</text></g>
<g class="p" transform="translate(827.6,418.4)"><circle r="5.3"/><text y="2.5">G</text></g>
<g class="p" transform="translate(819.4,405.3)"><circle r="5.3"/><text y="2.5">U</text></g>
<g class="p" transform="translate(816.2,422.4)"><circle r="5.3"/><text y="2.5">G</text></g>
<g class="p" transform="translate(804.8,426.1)"><circle r="5.3"/><text y="2.5">C</text></g>
<g class="p" transform="translate(794.1,430.6)"><circle r="5.3"/><text y="2.5">C</text></g>
<g class="p" transform="translate(782.9,434.8)"><circle r="5.3"/><text y="2.5">C</text></g>
<g class="b" transform="translate(464.8,713.6)"><circle r="5.3"/><text y="2.5">A</text></g>
<g class="p" transform="translate(473.3,725.5)"><circle r="5.3"/><text y="2.5">G</text></g>
<g class="p" transform="translate(473.0,737.1)"><circle r="5.3"/><text y="2.5">C</text></g>
<g class="p" transform="translate(472.3,749.0)"><circle r="5.3"/><text y="2.5">U</text></g>
<g class="p" transform="translate(472.3,761.3)"><circle r="5.3"/><text y="2.5">G</text></g>
<g class="p" transform="translate(470.5,796.7)"><circle r="5.3"/><text y="2.5">U</text></g>
<g class="p" transform="translate(470.5,808.6)"><circle r="5.3"/><text y="2.5">C</text></g>
<g class="p" transform="translate(470.0,820.6)"><circle r="5.3"/><text y="2.5">G</text></g>
<g class="dg" transform="translate(478.5,874.2)"><circle r="5.3"/><text y="2.5">G</text></g>
</g>
<g class="leg">
<text x="68" y="1267" fill="#ff0000" xml:space="preserve">      Probability &gt;= 99%</text>
<text x="68" y="1300.5" fill="#ff8000" xml:space="preserve">99% &gt; Probability &gt;= 95%</text>
<text x="68" y="1334" fill="#cccc22" xml:space="preserve">95% &gt; Probability &gt;= 90%</text>
<text x="68" y="1367.5" fill="#008000" xml:space="preserve">90% &gt; Probability &gt;= 80%</text>
<text x="68" y="1401" fill="#00ff00" xml:space="preserve">80% &gt; Probability &gt;= 70%</text>
<text x="68" y="1434.5" fill="#00a0ff" xml:space="preserve">70% &gt; Probability &gt;= 60%</text>
<text x="68" y="1468" fill="#0000ff" xml:space="preserve">60% &gt; Probability &gt;= 50%</text>
<text x="68" y="1501.5" fill="#ff80ff" xml:space="preserve">50% &gt; Probability</text>
<text x="68" y="1544" fill="#000000" xml:space="preserve">ENERGY = -145.2  01/09/26 05:11:13</text>
</g>
</svg>
</body></html>
